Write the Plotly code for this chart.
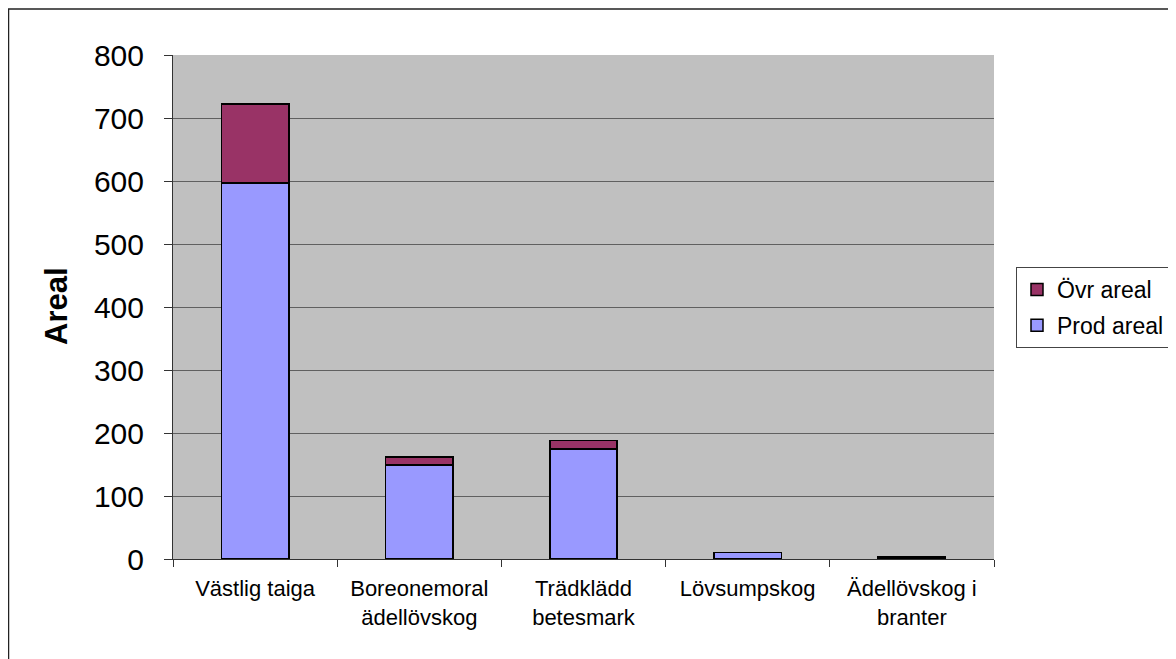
import plotly.graph_objects as go

categories = ["Västlig taiga", "Boreonemoral<br>ädellövskog", "Trädklädd<br>betesmark",
              "Lövsumpskog", "Ädellövskog i<br>branter"]
prod_areal = [597, 149, 175, 10, 2.5]
ovr_areal = [125, 13, 13, 0.6, 1.2]
y_ticks = [0, 100, 200, 300, 400, 500, 600, 700, 800]

# the page body has an 8px margin, so the figure is 8px smaller
W, H = 1168, 651
L, R, T, B = 165, 986, 47, 551

fig = go.Figure()
fig.add_trace(go.Bar(x=categories, y=prod_areal, name="Prod areal", legendgroup="p",
                     legendrank=2,
                     marker=dict(color="#9999FF", line=dict(color="black", width=1.5))))
fig.add_trace(go.Bar(x=categories, y=ovr_areal, name="Övr areal", legendgroup="o",
                     legendrank=1,
                     marker=dict(color="#993366", line=dict(color="black", width=1.5))))

def px(x):
    return (x - L) / (R - L)

def py(y):
    return (B - y) / (B - T)

fig.update_layout(
    width=W, height=H,
    margin=dict(l=L, r=W - R, t=T, b=H - B, autoexpand=False),
    barmode="stack", bargap=0.59,
    plot_bgcolor="#C0C0C0", paper_bgcolor="white",
    font=dict(family="Liberation Sans, Arial, sans-serif", color="black"),
    showlegend=True,
    legend=dict(x=px(1008), y=py(259), xanchor="left", yanchor="top",
                traceorder="grouped", tracegroupgap=3,
                bordercolor="#444", borderwidth=1,
                bgcolor="white", font=dict(size=23), itemwidth=30),
    xaxis=dict(tickfont=dict(size=22), tickson="boundaries", ticks="outside",
               ticklen=7, tickcolor="#333", showline=True, linecolor="#333",
               linewidth=1, showgrid=False, ticklabelstandoff=10),
    yaxis=dict(range=[0, 800], tickvals=y_ticks, tickfont=dict(size=30),
               ticks="outside", ticklen=8, tickcolor="#333", showline=True,
               linecolor="#333", linewidth=1, showgrid=True, gridcolor="#606060",
               gridwidth=1, zeroline=False, ticklabelstandoff=14),
    annotations=[dict(text="<b>Areal</b>", textangle=-90, xref="paper", yref="paper",
                      x=px(48), y=py(298), xanchor="center", yanchor="middle",
                      showarrow=False, font=dict(size=31))],
    shapes=[dict(type="rect", xref="paper", yref="paper",
                 x0=px(0.5), x1=px(1167), y0=py(660), y1=py(1),
                 line=dict(color="#222", width=1.5), fillcolor="rgba(0,0,0,0)",
                 layer="below")],
)

fig.write_html("out.html")
